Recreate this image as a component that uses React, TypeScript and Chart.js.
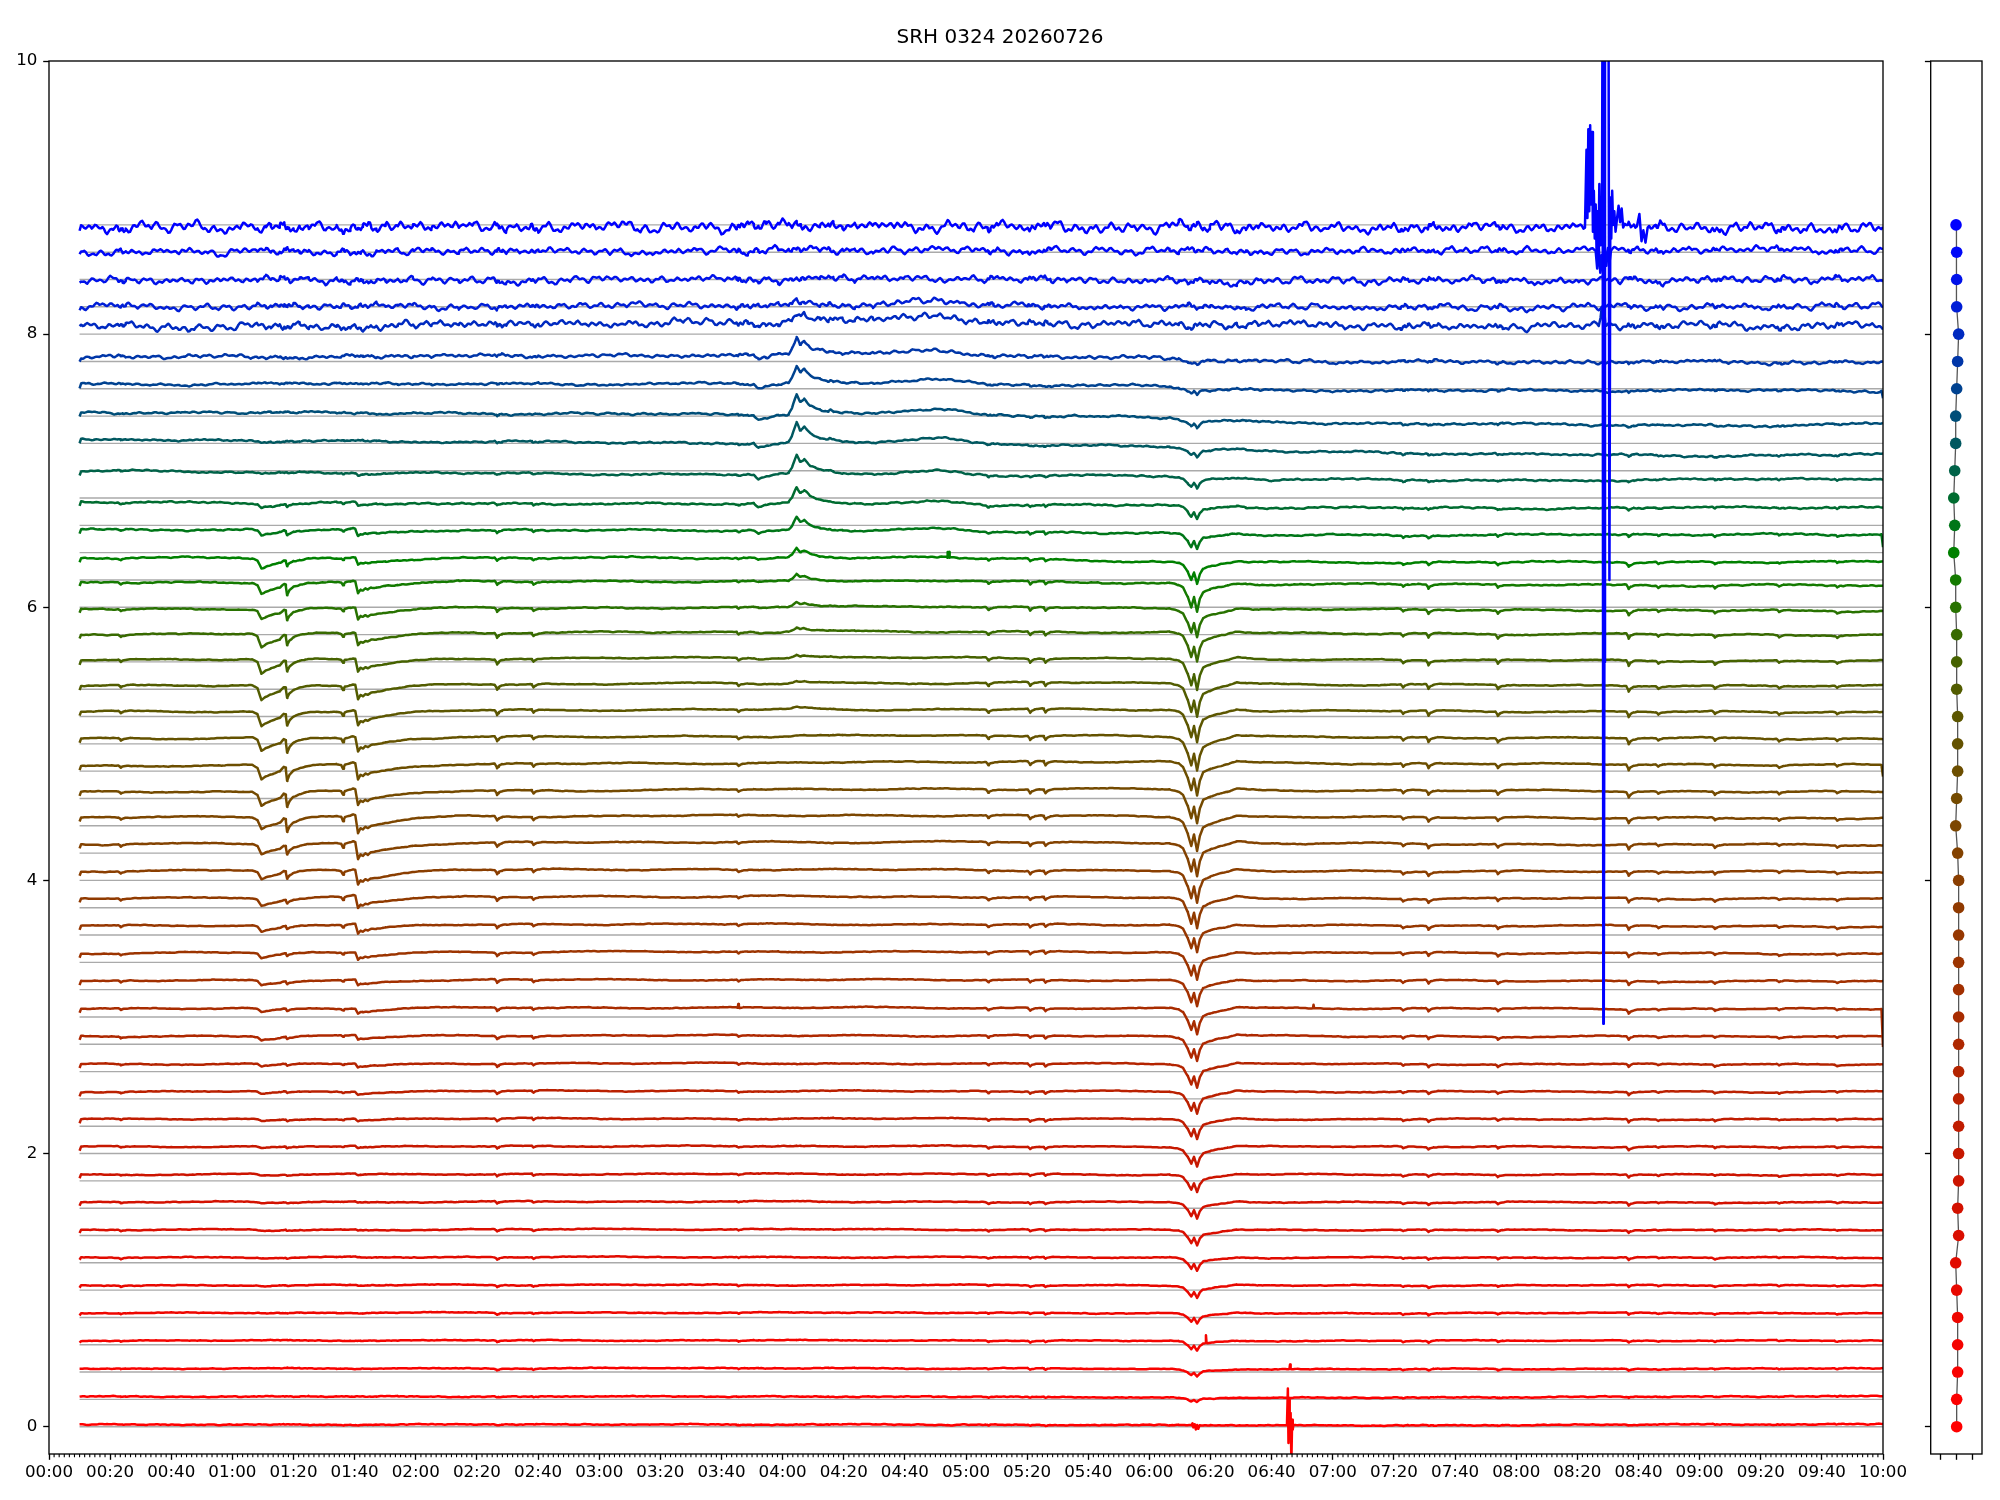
import React, { useEffect, useRef } from "react";
import { Chart, registerables } from "chart.js";

Chart.register(...registerables);

const TITLE = "SRH 0324 20260726";
const FONT = "'DejaVu Sans', 'Liberation Sans', sans-serif";

const LEVELS = [0, 0.2, 0.4, 0.6, 0.8, 1, 1.2, 1.4, 1.6, 1.8, 2, 2.2, 2.4, 2.6, 2.8, 3, 3.2, 3.4, 3.6, 3.8, 4, 4.2, 4.4, 4.6, 4.8, 5, 5.2, 5.4, 5.6, 5.8, 6, 6.2, 6.4, 6.6, 6.8, 7, 7.2, 7.4, 7.6, 7.8, 8, 8.2, 8.4, 8.6, 8.8];

const COLORS = [
  "rgb(255,0,0)", "rgb(252,0,0)", "rgb(248,2,0)", "rgb(244,4,0)", "rgb(238,6,0)", "rgb(232,8,0)", "rgb(225,11,0)", "rgb(218,14,0)", "rgb(211,17,0)", "rgb(204,20,0)",
  "rgb(198,24,0)", "rgb(192,28,0)", "rgb(186,32,0)", "rgb(180,36,0)", "rgb(174,40,0)", "rgb(168,44,0)", "rgb(162,48,0)", "rgb(156,52,0)", "rgb(150,55,0)", "rgb(144,58,0)",
  "rgb(138,62,0)", "rgb(131,66,0)", "rgb(124,70,0)", "rgb(116,74,0)", "rgb(108,78,0)", "rgb(100,82,0)", "rgb(92,86,0)", "rgb(82,92,0)", "rgb(70,98,0)", "rgb(56,106,0)",
  "rgb(40,114,0)", "rgb(20,122,0)", "rgb(0,128,0)", "rgb(0,118,24)", "rgb(0,108,48)", "rgb(0,98,72)", "rgb(0,88,96)", "rgb(0,78,120)", "rgb(0,66,144)", "rgb(0,54,168)",
  "rgb(0,42,192)", "rgb(0,30,214)", "rgb(0,18,234)", "rgb(0,8,248)", "rgb(0,0,255)",
];

// time axis (minutes since 00:00)
const T_START = 10;
const T_END = 600;
const T_STEP = 0.5;
const X_TICKS = [0, 20, 40, 60, 80, 100, 120, 140, 160, 180, 200, 220, 240, 260, 280, 300, 320, 340, 360, 380, 400, 420, 440, 460, 480, 500, 520, 540, 560, 580, 600];
const X_MINOR_STEP = 100 / 60;
const Y_TICKS = [0, 2, 4, 6, 8, 10];
const SIDE_X_TICKS = [-1, 0, 1];

// slow baseline offset of each trace from its grey line, at these times
const T_KNOTS = [10, 60, 150, 240, 330, 365, 400, 480, 540, 600];
const DRIFT = [
  [0.015, 0.015, 0.016, 0.016, 0.013, 0.012, 0.008, 0.012, 0.016, 0.018],
  [0.02, 0.02, 0.021, 0.021, 0.017, 0.014, 0.01, 0.016, 0.021, 0.022],
  [0.025, 0.025, 0.028, 0.028, 0.025, 0.022, 0.02, 0.022, 0.025, 0.025],
  [0.03, 0.03, 0.032, 0.032, 0.03, 0.028, 0.028, 0.03, 0.03, 0.03],
  [0.032, 0.033, 0.035, 0.035, 0.033, 0.03, 0.03, 0.032, 0.032, 0.032],
  [0.035, 0.036, 0.038, 0.038, 0.036, 0.034, 0.033, 0.035, 0.035, 0.035],
  [0.038, 0.04, 0.042, 0.042, 0.04, 0.038, 0.037, 0.038, 0.038, 0.038],
  [0.04, 0.042, 0.045, 0.045, 0.043, 0.04, 0.04, 0.04, 0.04, 0.04],
  [0.043, 0.045, 0.048, 0.048, 0.046, 0.043, 0.043, 0.043, 0.042, 0.042],
  [0.046, 0.048, 0.05, 0.05, 0.048, 0.046, 0.046, 0.046, 0.045, 0.045],
  [0.05, 0.052, 0.054, 0.054, 0.052, 0.05, 0.05, 0.05, 0.048, 0.048],
  [0.05, 0.053, 0.056, 0.056, 0.054, 0.052, 0.052, 0.052, 0.05, 0.05],
  [0.052, 0.054, 0.058, 0.058, 0.056, 0.054, 0.054, 0.053, 0.052, 0.052],
  [0.054, 0.056, 0.06, 0.06, 0.058, 0.056, 0.056, 0.055, 0.054, 0.053],
  [0.057, 0.06, 0.064, 0.064, 0.062, 0.06, 0.06, 0.058, 0.057, 0.056],
  [0.06, 0.063, 0.068, 0.068, 0.066, 0.064, 0.063, 0.062, 0.06, 0.058],
  [0.064, 0.067, 0.072, 0.073, 0.07, 0.068, 0.066, 0.065, 0.063, 0.06],
  [0.068, 0.07, 0.076, 0.078, 0.076, 0.074, 0.07, 0.068, 0.066, 0.063],
  [0.068, 0.072, 0.078, 0.08, 0.076, 0.073, 0.07, 0.068, 0.066, 0.063],
  [0.07, 0.075, 0.08, 0.082, 0.078, 0.073, 0.07, 0.068, 0.066, 0.063],
  [0.068, 0.073, 0.078, 0.08, 0.075, 0.07, 0.068, 0.066, 0.064, 0.062],
  [0.064, 0.068, 0.076, 0.08, 0.08, 0.076, 0.07, 0.066, 0.062, 0.06],
  [0.06, 0.064, 0.07, 0.076, 0.074, 0.068, 0.064, 0.06, 0.057, 0.055],
  [0.046, 0.049, 0.058, 0.066, 0.07, 0.066, 0.06, 0.056, 0.052, 0.05],
  [0.04, 0.042, 0.052, 0.062, 0.07, 0.068, 0.06, 0.052, 0.048, 0.045],
  [0.038, 0.042, 0.05, 0.058, 0.06, 0.056, 0.05, 0.045, 0.04, 0.038],
  [0.034, 0.037, 0.045, 0.052, 0.053, 0.049, 0.042, 0.038, 0.034, 0.03],
  [0.025, 0.027, 0.036, 0.044, 0.048, 0.044, 0.036, 0.03, 0.025, 0.022],
  [0.015, 0.017, 0.025, 0.03, 0.03, 0.024, 0.018, 0.012, 0.008, 0.005],
  [0.004, 0.005, 0.014, 0.02, 0.022, 0.017, 0.01, 0.004, 0, -0.003],
  [-0.012, -0.012, -0.005, 0, -0.002, -0.01, -0.015, -0.02, -0.024, -0.026],
  [-0.02, -0.02, -0.012, -0.01, -0.015, -0.024, -0.03, -0.035, -0.04, -0.04],
  [-0.035, -0.042, -0.04, -0.037, -0.05, -0.07, -0.07, -0.07, -0.07, -0.065],
  [-0.03, -0.034, -0.035, -0.04, -0.05, -0.06, -0.07, -0.07, -0.068, -0.065],
  [-0.03, -0.035, -0.04, -0.045, -0.05, -0.055, -0.07, -0.075, -0.07, -0.07],
  [0, -0.01, -0.02, -0.03, -0.035, -0.04, -0.065, -0.07, -0.065, -0.06],
  [0.025, 0.02, 0.01, 0, -0.01, -0.02, -0.06, -0.08, -0.09, -0.08],
  [0.03, 0.025, 0.018, 0.01, 0, -0.01, -0.05, -0.06, -0.068, -0.06],
  [0.035, 0.035, 0.035, 0.034, 0.025, 0.015, -0.01, -0.015, -0.012, -0.015],
  [0.03, 0.035, 0.04, 0.046, 0.035, 0.02, 0, -0.005, -0.005, -0.01],
  [0.05, 0.055, 0.07, 0.088, 0.08, 0.07, 0.065, 0.06, 0.06, 0.06],
  [0, 0, 0.005, 0.01, 0.005, 0, -0.005, -0.005, 0, 0],
  [-0.005, -0.007, -0.005, 0, -0.005, -0.01, -0.012, -0.01, 0, -0.005],
  [0, 0, 0.005, 0.01, 0.01, 0.007, 0.007, 0.01, 0.02, 0.01],
  [-0.02, -0.02, -0.015, -0.01, -0.015, -0.02, -0.02, -0.02, -0.02, -0.02],
];

// events: time (min), shape (dt, relative value), per-trace amplitude
const E1_TIME = 69.5;
const E1_SHAPE = [[-3, 0], [-1.3, -0.2], [0, -1], [1.4, -0.8], [3.1, -0.65], [5.8, -0.45], [7.4, -0.3], [8.5, -0.2], [11, -0.15], [14, -0.07], [18, 0]];
const E1_DEPTH = [0, 0, 0, 0, 0.003, 0.005, 0.006, 0.008, 0.01, 0.012, 0.014, 0.016, 0.02, 0.024, 0.028, 0.032, 0.036, 0.04, 0.05, 0.056, 0.068, 0.073, 0.085, 0.1, 0.105, 0.1, 0.11, 0.11, 0.11, 0.1, 0.073, 0.073, 0.073, 0.044, 0.03, 0.015, 0.008, 0, 0, 0, 0, 0, 0, 0, 0];

const E2_TIME = 77.9;
const E2_SHAPE = [[-2.2, 0], [-1.1, 0.22], [-0.5, 0.1], [0, -1], [0.8, -0.55], [2, -0.25], [4, -0.1], [7, 0]];
const E2_DEPTH = [0, 0, 0, 0, 0.002, 0.003, 0.004, 0.005, 0.006, 0.008, 0.01, 0.011, 0.012, 0.014, 0.015, 0.017, 0.018, 0.02, 0.02, 0.025, 0.05, 0.06, 0.09, 0.09, 0.093, 0.09, 0.08, 0.073, 0.073, 0.07, 0.07, 0.073, 0.04, 0.03, 0.015, 0, 0, 0, 0, 0, 0, 0, 0, 0, 0];

const E3_TIME = 101.1;
const E3_SHAPE = [[-7, 0], [-5.5, -0.05], [-4.9, -0.3], [-4.3, -0.05], [-2.5, 0.05], [-1.6, 0.1], [-0.9, 0.06], [0, -1], [0.8, -0.7], [1.6, -0.78], [2.4, -0.62], [3.2, -0.7], [4.2, -0.55], [6, -0.5], [9, -0.38], [13, -0.25], [18, -0.12], [24, -0.05], [33, 0]];
const E3_DEPTH = [0, 0, 0, 0, 0.002, 0.004, 0.006, 0.008, 0.01, 0.012, 0.015, 0.018, 0.022, 0.026, 0.03, 0.036, 0.042, 0.05, 0.066, 0.085, 0.1, 0.12, 0.127, 0.11, 0.115, 0.1, 0.1, 0.1, 0.088, 0.085, 0.08, 0.08, 0.05, 0.05, 0.03, 0.015, 0, 0, 0, 0, 0, 0, 0, 0, 0];

const BUMP1_TIME = 244.6;
const BUMP1_SHAPE = [[-14, 0], [-12.5, -0.22], [-10, -0.1], [-6, 0], [-2.7, 0.05], [-1.5, 0.35], [0, 1], [1.1, 0.62], [2.5, 0.78], [4.4, 0.45], [7.6, 0.25], [10.3, 0.17], [11, 0.22], [12, 0.14], [15, 0.08], [19, 0.04], [25, 0]];
const BUMP1_HEIGHT = [0, 0, 0, 0, 0, 0, 0, 0, 0, 0, 0, 0, 0, 0, 0, 0, 0, 0, 0, 0, 0, 0, 0, 0, 0, 0.01, 0.015, 0.02, 0.025, 0.03, 0.04, 0.05, 0.073, 0.1, 0.12, 0.14, 0.154, 0.154, 0.14, 0.134, 0.07, 0.03, 0.02, 0.01, 0];

const BUMP2_TIME = 290;
const BUMP2_SHAPE = [[-30, 0], [-20, 0.3], [-10, 0.7], [0, 1], [6, 0.8], [12, 0.3], [18, 0]];
const BUMP2_HEIGHT = [0, 0, 0, 0, 0, 0, 0, 0, 0, 0, 0, 0, 0, 0, 0, 0, 0, 0, 0, 0, 0, 0, 0, 0, 0, 0, 0, 0, 0, 0, 0.01, 0.01, 0.012, 0.02, 0.025, 0.03, 0.04, 0.045, 0.045, 0.05, 0.05, 0.035, 0.02, 0.01, 0];

const DIP_TIME = 375.6;
const DIP_SHAPE = [[-9, 0], [-6, -0.06], [-4.6, -0.15], [-3, -0.5], [-1.9, -0.85], [-1, -0.5], [0, -1], [0.9, -0.55], [2, -0.3], [4.2, -0.2], [6.9, -0.12], [10, -0.05], [13, 0.04], [16, 0.02], [20, 0]];
const DIP_DEPTH = [0, 0.034, 0.054, 0.073, 0.078, 0.09, 0.1, 0.11, 0.12, 0.13, 0.14, 0.15, 0.16, 0.17, 0.18, 0.19, 0.195, 0.2, 0.2, 0.23, 0.237, 0.244, 0.244, 0.244, 0.246, 0.244, 0.24, 0.24, 0.23, 0.22, 0.2, 0.21, 0.16, 0.12, 0.1, 0.08, 0.065, 0.055, 0.045, 0.035, 0.015, 0.005, 0, 0, 0];

const MINOR_TIMES = [23.5, 146.6, 158.5, 225.6, 307.3, 321, 326, 443, 451.3, 474, 516.8, 526.5, 545, 566, 585];
const MINOR_REL = [0.3, 0.6, 0.4, 0.3, 0.4, 0.5, 0.5, 0.4, 0.6, 0.5, 0.7, 0.3, 0.4, 0.3, 0.3];
const MINOR_SHAPE = [[-0.8, 0], [-0.2, -0.6], [0, -1], [0.6, -0.45], [1.6, -0.15], [3, 0]];
const MINOR_AMP = [0.008, 0.012, 0.02, 0.022, 0.024, 0.025, 0.026, 0.027, 0.028, 0.03, 0.032, 0.034, 0.035, 0.036, 0.038, 0.04, 0.042, 0.044, 0.046, 0.048, 0.05, 0.052, 0.054, 0.056, 0.058, 0.06, 0.06, 0.06, 0.058, 0.055, 0.05, 0.046, 0.04, 0.034, 0.028, 0.024, 0.02, 0.018, 0.015, 0.012, 0, 0, 0, 0, 0];

// hand-estimated ripple amplitudes: fast jitter and slow wander
const NOISE_AMP = [0.004, 0.004, 0.003, 0.003, 0.003, 0.003, 0.003, 0.003, 0.003, 0.003, 0.003, 0.003, 0.003, 0.003, 0.003, 0.003, 0.003, 0.003, 0.003, 0.003, 0.003, 0.003, 0.003, 0.003, 0.003, 0.003, 0.003, 0.003, 0.003, 0.004, 0.004, 0.005, 0.005, 0.006, 0.007, 0.007, 0.008, 0.009, 0.01, 0.016, 0.032, 0.028, 0.032, 0.032, 0.048];
const SLOW_AMP = [0.003, 0.003, 0.004, 0.004, 0.004, 0.005, 0.005, 0.005, 0.005, 0.006, 0.006, 0.006, 0.006, 0.006, 0.007, 0.007, 0.007, 0.007, 0.007, 0.008, 0.008, 0.008, 0.008, 0.008, 0.008, 0.008, 0.008, 0.008, 0.008, 0.008, 0.008, 0.008, 0.008, 0.008, 0.008, 0.008, 0.008, 0.009, 0.009, 0.01, 0.014, 0.012, 0.012, 0.012, 0.014];
const NOISE_PATTERN = [
  0.1, 0.5, 0.9, 0.6, -0.2, -0.7, -0.4, 0.2, 0.3, -0.1, -0.8, -1.0, -0.5, 0.3, 0.8, 0.4, 0.0, 0.2, 0.6, 0.1,
  -0.5, -0.3, 0.4, 0.7, 0.2, -0.6, -0.9, -0.3, 0.5, 0.9, 0.7, 0.1, -0.3, -0.2, 0.3, 0.1, -0.6, -0.8, -0.2, 0.4,
  0.6, 0.0, -0.4, 0.1, 0.8, 1.0, 0.3, -0.5, -0.7, -0.1, 0.2, -0.3, -0.9, -0.6, 0.1, 0.5, 0.2, -0.2, 0.4, 0.9,
  0.5, -0.3, -0.8, -0.4, 0.3, 0.6, 0.2, -0.1, 0.3, 0.7, 0.1, -0.7, -1.0, -0.4, 0.2, 0.1, -0.3, 0.2, 0.8, 0.6,
  -0.1, -0.6, -0.2, 0.5, 0.3, -0.4, -0.7, 0.0, 0.6, 0.4, -0.2, 0.2, 0.7, 0.3, -0.5, -0.9, -0.5, 0.1, 0.4, 0.0,
  -0.3, 0.3, 0.9, 0.5, -0.2, -0.5, 0.1, 0.6, 0.2, -0.6, -0.8, -0.1, 0.5, 0.8, 0.2, -0.4, -0.2, 0.3, -0.1, -0.7,
];

const START_DROP = [0, 0, 0, 0.01, 0.015, 0.02, 0.02, 0.025, 0.025, 0.03, 0.03, 0.03, 0.03, 0.03, 0.03, 0.03, 0.03, 0.03, 0.03, 0.03, 0.03, 0.03, 0.03, 0.03, 0.03, 0.03, 0.03, 0.03, 0.03, 0.03, 0.03, 0.03, 0.03, 0.03, 0.03, 0.03, 0.03, 0.03, 0.03, 0.03, 0.02, 0.02, 0.02, 0.02, 0.02];

// hand-read segments (time, value above grey line) replacing the modelled trace
const SPECIALS: { row: number; pts: number[][] }[] = [
  { row: 44, pts: [[502.5, -0.02], [503.0, 0.55], [503.3, 0.05], [503.6, 0.7], [503.9, 0.1], [504.2, 0.73], [504.5, 0.15], [504.8, 0.68], [505.1, -0.05], [505.4, 0.25], [505.7, -0.1], [506.0, 0.15], [506.3, -0.2], [506.6, 0.1], [506.9, -0.25], [507.2, 0.3], [507.5, -0.15], [507.8, 0.05], [508.05, -0.1], [508.25, 1.8], [508.5, -5.85], [508.65, -5.8], [508.85, -3.2], [509.05, 1.8], [510.2, 1.8], [510.5, -2.6], [510.8, 0.2], [511.1, -0.1], [511.4, 0.25], [511.7, 0.0], [512.1, 0.1], [512.5, -0.05], [513.0, 0.05], [513.5, 0.14], [514.0, 0.02], [514.5, 0.12], [515.0, -0.02]] },
  { row: 44, pts: [[519.5, -0.01], [520.3, 0.08], [521.0, -0.12], [521.6, -0.04], [522.3, -0.13], [523.0, -0.02]] },
  { row: 43, pts: [[506.0, 0.01], [506.5, -0.12], [507.0, 0.05], [507.5, -0.15], [508.0, -0.02], [508.5, -0.17], [509.0, 0.02], [509.5, -0.1], [510.0, 0.03], [510.5, -0.08], [511.0, 0.01]] },
  { row: 40, pts: [[507.0, 0.06], [507.6, 0.12], [508.0, 0.2], [508.4, 0.1], [508.8, 0.18], [509.2, 0.06]] },
  { row: 0, pts: [[373.8, 0.01], [374.1, 0.025], [374.4, -0.005], [374.8, 0.018], [375.2, -0.02], [375.6, 0.012], [376.0, -0.015], [376.4, 0.01]] },
  { row: 0, pts: [[405.0, 0.01], [405.3, 0.28], [405.5, -0.12], [405.7, 0.2], [405.9, -0.05], [406.2, 0.1], [406.45, -0.25], [406.7, 0.05], [406.9, -0.02], [407.1, 0.01]] },
  { row: 2, pts: [[405.8, 0.022], [406.0, 0.055], [406.2, 0.022]] },
  { row: 3, pts: [[378.3, 0.012], [378.5, 0.07], [378.7, 0.012]] },
  { row: 15, pts: [[225.3, 0.067], [225.5, 0.095], [225.7, 0.067]] },
  { row: 15, pts: [[413.5, 0.064], [413.7, 0.09], [413.9, 0.064]] },
  { row: 32, pts: [[293.95, -0.037], [294.0, 0.005], [294.6, 0.005], [294.65, -0.037]] },
  { row: 38, pts: [[599.5, -0.015], [600, -0.07]] },
  { row: 33, pts: [[599.5, -0.065], [600, -0.16]] },
  { row: 24, pts: [[599.5, 0.045], [600, -0.04]] },
  { row: 15, pts: [[599.5, 0.058], [600, -0.22]] },
];

// right panel marker x positions
const DOT_X = [0.02, 0.02, 0.08, 0.08, 0.08, 0.02, -0.04, 0.14, 0.08, 0.14, 0.14, 0.14, 0.14, 0.14, 0.14, 0.14, 0.14, 0.14, 0.14, 0.14, 0.14, 0.08, -0.04, 0.02, 0.08, 0.08, 0.08, 0.02, 0.02, 0.02, -0.04, -0.04, -0.16, -0.1, -0.16, -0.1, -0.04, -0.04, 0.02, 0.08, 0.14, 0.02, 0.02, 0.02, -0.02];

// ---------- layout (pixels) ----------
const TITLE_X = 1000;
const TITLE_Y = 38;
const MAIN_W = 1920;
const SIDE_LEFT = 1890;
const SIDE_W = 110;
const H = 1500;

function lerpKnots(xs: number[], ys: number[], t: number) {
  if (t <= xs[0]) return ys[0];
  for (let j = 1; j < xs.length; j++) {
    if (t <= xs[j]) {
      const f = (t - xs[j - 1]) / (xs[j] - xs[j - 1]);
      return ys[j - 1] + f * (ys[j] - ys[j - 1]);
    }
  }
  return ys[ys.length - 1];
}

function shapeAt(shape: number[][], dt: number) {
  if (dt <= shape[0][0] || dt >= shape[shape.length - 1][0]) return 0;
  for (let j = 1; j < shape.length; j++) {
    if (dt <= shape[j][0]) {
      const [t0, v0] = shape[j - 1];
      const [t1, v1] = shape[j];
      return v0 + ((v1 - v0) * (dt - t0)) / (t1 - t0);
    }
  }
  return 0;
}

function patternAt(u: number, len: number) {
  const a = ((u % len) + len) % len;
  const j = Math.floor(a);
  const f = a - j;
  return NOISE_PATTERN[j % len] * (1 - f) + NOISE_PATTERN[(j + 1) % len] * f;
}

function buildTimes() {
  const ts: number[] = [];
  for (let t = T_START; t <= T_END + 1e-9; t += T_STEP) ts.push(Math.round(t * 100) / 100);
  const add = (t0: number, shape: number[][]) => shape.forEach(([dt]) => ts.push(Math.round((t0 + dt) * 100) / 100));
  add(E1_TIME, E1_SHAPE);
  add(E2_TIME, E2_SHAPE);
  add(E3_TIME, E3_SHAPE);
  add(BUMP1_TIME, BUMP1_SHAPE);
  add(DIP_TIME, DIP_SHAPE);
  MINOR_TIMES.forEach((t) => add(t, MINOR_SHAPE));
  const sorted = ts.filter((t) => t >= T_START && t <= T_END).sort((a, b) => a - b);
  const out: number[] = [];
  for (const t of sorted) if (!out.length || t - out[out.length - 1] > 0.05) out.push(t);
  return out;
}

function buildTrace(i: number, times: number[]) {
  let pts = times.map((t, k) => {
    let y = LEVELS[i] + lerpKnots(T_KNOTS, DRIFT[i], t);
    y += E1_DEPTH[i] * shapeAt(E1_SHAPE, t - E1_TIME);
    y += E2_DEPTH[i] * shapeAt(E2_SHAPE, t - E2_TIME);
    y += E3_DEPTH[i] * shapeAt(E3_SHAPE, t - E3_TIME);
    y += BUMP1_HEIGHT[i] * shapeAt(BUMP1_SHAPE, t - BUMP1_TIME);
    y += BUMP2_HEIGHT[i] * shapeAt(BUMP2_SHAPE, t - BUMP2_TIME);
    y += DIP_DEPTH[i] * shapeAt(DIP_SHAPE, t - DIP_TIME);
    let m = 0;
    for (let j = 0; j < MINOR_TIMES.length; j++) m += MINOR_REL[j] * shapeAt(MINOR_SHAPE, t - MINOR_TIMES[j]);
    y += MINOR_AMP[i] * m;
    const fast = 0.5 * NOISE_PATTERN[(k + 37 * i) % 120] + 0.6 * patternAt(t * 0.85 + 41 * i, 120) + 0.3 * patternAt(t * 0.37 + 13 * i, 97);
    y += NOISE_AMP[i] * fast;
    y += SLOW_AMP[i] * patternAt(t * 0.11 + 57 * i, 120);
    return { x: t, y };
  });
  pts[0] = { x: pts[0].x, y: pts[0].y - START_DROP[i] };
  for (const s of SPECIALS) {
    if (s.row !== i) continue;
    const t0 = s.pts[0][0];
    const t1 = s.pts[s.pts.length - 1][0];
    pts = pts.filter((p) => p.x < t0 || p.x > t1);
    for (const [t, v] of s.pts) pts.push({ x: t, y: LEVELS[i] + v });
    pts.sort((a, b) => a.x - b.x);
  }
  return pts;
}

function fmtTime(v: number) {
  const h = Math.floor(v / 60);
  const m = Math.round(v - h * 60);
  return `${String(h).padStart(2, "0")}:${String(m).padStart(2, "0")}`;
}

function framePlugin(extras: boolean) {
  return {
    id: "frame",
    afterDraw(chart: any) {
      const { ctx, chartArea: a } = chart;
      ctx.save();
      ctx.strokeStyle = "#000";
      ctx.lineWidth = 1.33;
      ctx.strokeRect(a.left, a.top, a.right - a.left, a.bottom - a.top);
      if (extras) {
        const xs = chart.scales.x;
        ctx.lineWidth = 1.1;
        ctx.beginPath();
        for (let k = 0; k * X_MINOR_STEP <= T_END + 1e-6; k++) {
          if (k % 12 === 0) continue;
          const px = xs.getPixelForValue(k * X_MINOR_STEP);
          ctx.moveTo(px, a.bottom);
          ctx.lineTo(px, a.bottom + 3.3);
        }
        ctx.stroke();
        ctx.fillStyle = "#000";
        ctx.font = `20px ${FONT}`;
        ctx.textAlign = "center";
        ctx.textBaseline = "middle";
        ctx.fillText(TITLE, TITLE_X, TITLE_Y);
      }
      ctx.restore();
    },
  };
}

function axisGrid() {
  return { drawOnChartArea: false, drawTicks: true, tickLength: 5.8, tickWidth: 1.33, tickColor: "#000" };
}

function mainConfig(): any {
  const times = buildTimes();
  const datasets: any[] = [];
  LEVELS.forEach((lv) => {
    datasets.push({
      data: [{ x: T_START, y: lv }, { x: T_END, y: lv }],
      borderColor: "#aaaaaa",
      borderWidth: 1.4,
      pointRadius: 0,
      order: 1000,
    });
  });
  LEVELS.forEach((_, i) => {
    datasets.push({
      data: buildTrace(i, times),
      borderColor: COLORS[i],
      borderWidth: 2.5,
      pointRadius: 0,
      borderJoinStyle: "round",
      order: 100 - i,
    });
  });
  return {
    type: "line",
    data: { datasets },
    plugins: [framePlugin(true)],
    options: {
      responsive: false,
      animation: false,
      devicePixelRatio: 1,
      parsing: false,
      normalized: true,
      events: [],
      layout: { padding: { left: 0, top: 61, right: MAIN_W - 1883, bottom: 0 } },
      plugins: { legend: { display: false }, tooltip: { enabled: false }, title: { display: false } },
      elements: { line: { tension: 0 }, point: { radius: 0 } },
      scales: {
        x: {
          type: "linear",
          min: 0,
          max: 600,
          afterBuildTicks: (s: any) => { s.ticks = X_TICKS.map((v) => ({ value: v })); },
          afterFit: (s: any) => { s.height = 46; },
          grid: axisGrid(),
          border: { display: false },
          ticks: { autoSkip: false, maxRotation: 0, minRotation: 0, padding: 3, color: "#000", font: { family: FONT, size: 16.7 }, callback: (v: any) => fmtTime(Number(v)) },
        },
        y: {
          type: "linear",
          min: -0.2,
          max: 10,
          afterBuildTicks: (s: any) => { s.ticks = Y_TICKS.map((v) => ({ value: v })); },
          afterFit: (s: any) => { s.width = 49; },
          grid: axisGrid(),
          border: { display: false },
          ticks: { autoSkip: false, padding: 5.8, color: "#000", font: { family: FONT, size: 16.7 }, callback: (v: any) => String(v) },
        },
      },
    },
  };
}

function sideConfig(): any {
  return {
    type: "line",
    data: {
      datasets: [
        {
          data: LEVELS.map((lv, i) => ({ x: DOT_X[i], y: lv })),
          borderColor: "rgba(30,30,30,0.75)",
          borderWidth: 1.3,
          pointRadius: 5.8,
          pointBackgroundColor: COLORS,
          pointBorderColor: COLORS,
          pointBorderWidth: 0,
        },
      ],
    },
    plugins: [framePlugin(false)],
    options: {
      responsive: false,
      animation: false,
      devicePixelRatio: 1,
      parsing: false,
      events: [],
      layout: { padding: { left: 1930.7 - SIDE_LEFT - 10, top: 61, right: SIDE_LEFT + SIDE_W - 1982, bottom: 0 } },
      plugins: { legend: { display: false }, tooltip: { enabled: false } },
      elements: { line: { tension: 0 } },
      scales: {
        x: {
          type: "linear",
          min: -1.58,
          max: 1.58,
          afterBuildTicks: (s: any) => { s.ticks = SIDE_X_TICKS.map((v) => ({ value: v })); },
          afterFit: (s: any) => { s.height = 46; },
          grid: axisGrid(),
          border: { display: false },
          ticks: { display: false },
        },
        y: {
          type: "linear",
          min: -0.2,
          max: 10,
          afterBuildTicks: (s: any) => { s.ticks = Y_TICKS.map((v) => ({ value: v })); },
          afterFit: (s: any) => { s.width = 10; },
          grid: axisGrid(),
          border: { display: false },
          ticks: { display: false },
        },
      },
    },
  };
}

export default function App() {
  const mainRef = useRef<HTMLCanvasElement>(null);
  const sideRef = useRef<HTMLCanvasElement>(null);
  useEffect(() => {
    const c1 = new Chart(mainRef.current as HTMLCanvasElement, mainConfig());
    const c2 = new Chart(sideRef.current as HTMLCanvasElement, sideConfig());
    return () => {
      c1.destroy();
      c2.destroy();
    };
  }, []);
  return (
    <div style={{ position: "absolute", left: 0, top: 0, width: 2000, height: H, background: "#fff" }}>
      <canvas ref={mainRef} width={MAIN_W} height={H} style={{ position: "absolute", left: 0, top: 0, width: MAIN_W, height: H }} />
      <canvas ref={sideRef} width={SIDE_W} height={H} style={{ position: "absolute", left: SIDE_LEFT, top: 0, width: SIDE_W, height: H }} />
    </div>
  );
}
